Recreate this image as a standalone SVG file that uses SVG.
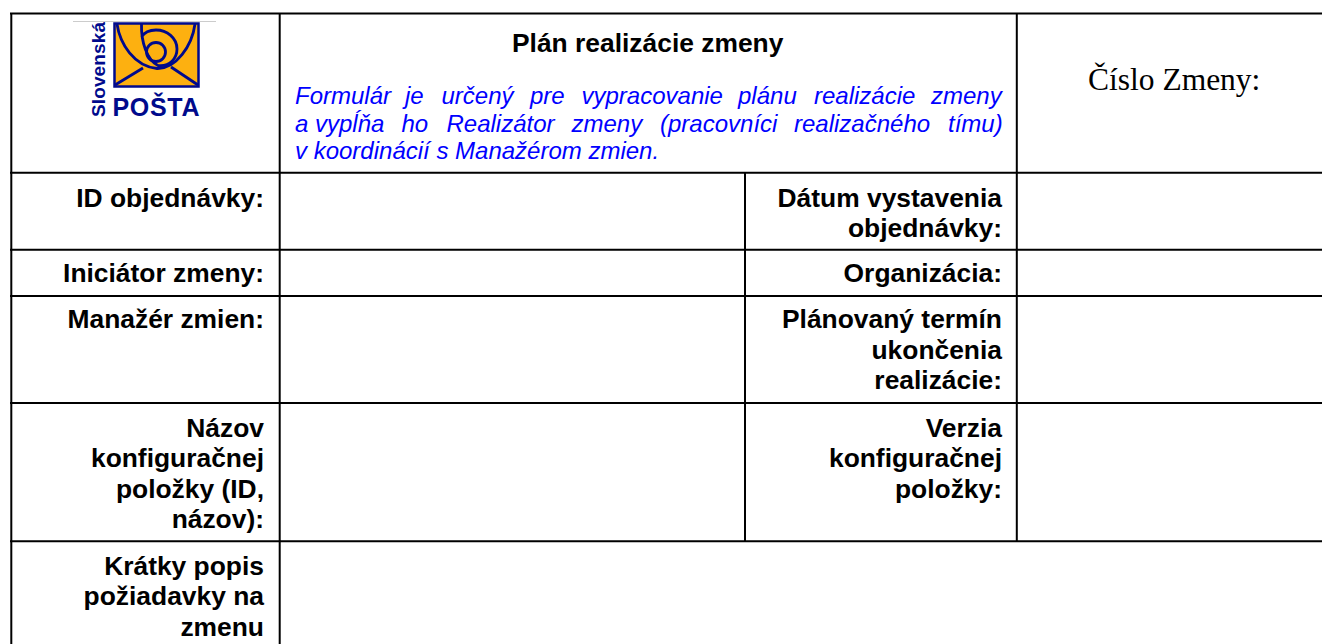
<svg xmlns="http://www.w3.org/2000/svg" width="1322" height="644" viewBox="0 0 1322 644">
<style>
.g{stroke:#000;stroke-width:2;fill:none}
.b{font:bold 26.4px "Liberation Sans",Arial,sans-serif;fill:#000;text-anchor:end}
.i{font:italic 24px "Liberation Sans",Arial,sans-serif;fill:#00f}
.n{fill:none;stroke:#000a8c;stroke-width:2.800}
</style>
<rect width="1322" height="644" fill="#fff"/>
<g id="grid" class="g">
<path d="M10 13.500H1322M10 172.700H1322M10 249.700H1322M10 296H1322M10 403H1322M10 541.300H1322"/>
<path d="M11.300 13V644M279.700 13V644M1016.800 13V541M745 173V541"/>
</g>
<g id="logo">
<path d="M73 21.500H216" stroke="#ccc" stroke-width="1"/>
<rect x="114.500" y="23.500" width="84" height="63" fill="#fdb010" stroke="#000a8c" stroke-width="2.500"/>
<path class="n" d="M117 24C120 44 134 66 157 68.500C176 69 192 46 195 24"/>
<path class="n" d="M115 85L143 68M198 85L171 67"/>
<circle class="n" cx="156" cy="52" r="9.500"/>
<path class="n" d="M141.500 24C141 42 147 60 158 65.500C170 67 177 58 177 49C177 38 167 30 156 30C149 30 144 33 141.500 37"/>
<text x="104.500" y="117" transform="rotate(-90 104.500 117)" font-family="Liberation Sans" font-weight="bold" font-size="19" textLength="95" fill="#000a8c">Slovenská</text>
<text x="112.500" y="116" font-family="Liberation Sans" font-weight="bold" font-size="25" textLength="87" fill="#000a8c">POŠTA</text>
</g>
<g id="title">
<text x="512" y="51.500" font-family="Liberation Sans" font-weight="bold" font-size="26.400" fill="#000">Plán realizácie zmeny</text>
<text class="i" y="104"><tspan x="295">Formulár</tspan> <tspan x="405">je</tspan> <tspan x="441.500">určený</tspan> <tspan x="530">pre</tspan> <tspan x="581.500">vypracovanie</tspan> <tspan x="738">plánu</tspan> <tspan x="814">realizácie</tspan> <tspan x="931">zmeny</tspan></text>
<text class="i" y="131.500"><tspan x="295">a vypĺňa</tspan> <tspan x="401.500">ho</tspan> <tspan x="446.500">Realizátor</tspan> <tspan x="571.500">zmeny</tspan> <tspan x="660">(pracovníci</tspan> <tspan x="794">realizačného</tspan> <tspan x="948">tímu)</tspan></text>
<text class="i" x="295" y="159">v koordinácií s Manažérom zmien.</text>
</g>
<g id="cislo"><text x="1088" y="90" font-family="Liberation Serif" font-size="31.500" fill="#000">Číslo Zmeny:</text></g>
<g id="labels-left">
<text class="b" x="264" y="206.500">ID objednávky:</text>
<text class="b" x="264" y="281.700">Iniciátor zmeny:</text>
<text class="b" x="264" y="328">Manažér zmien:</text>
<text class="b" x="264" y="436.500">Názov</text>
<text class="b" x="264" y="467">konfiguračnej</text>
<text class="b" x="264" y="497.500">položky (ID,</text>
<text class="b" x="264" y="528">názov):</text>
<text class="b" x="264" y="574.500">Krátky popis</text>
<text class="b" x="264" y="605">požiadavky na</text>
<text class="b" x="264" y="635.500">zmenu</text>
</g>
<g id="labels-right">
<text class="b" x="1002" y="206.500">Dátum vystavenia</text>
<text class="b" x="1002" y="237">objednávky:</text>
<text class="b" x="1002" y="281.700">Organizácia:</text>
<text class="b" x="1002" y="328">Plánovaný termín</text>
<text class="b" x="1002" y="358.500">ukončenia</text>
<text class="b" x="1002" y="389">realizácie:</text>
<text class="b" x="1002" y="436.500">Verzia</text>
<text class="b" x="1002" y="467">konfiguračnej</text>
<text class="b" x="1002" y="497.500">položky:</text>
</g>
</svg>
